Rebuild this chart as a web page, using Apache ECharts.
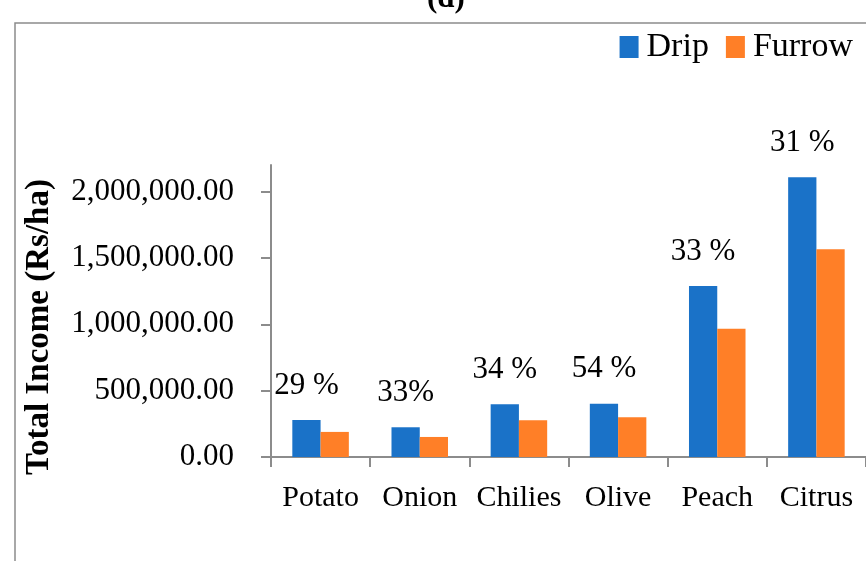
<!DOCTYPE html>
<html>
<head>
<meta charset="utf-8">
<script src="https://cdn.jsdelivr.net/npm/echarts@6/dist/echarts.min.js"></script>
<style>
  html, body { margin: 0; padding: 0; background: #fff; }
  #chart { width: 866px; height: 561px; }
</style>
</head>
<body>
<div id="chart"></div>
<script>
const crops = ['Potato', 'Onion', 'Chilies', 'Olive', 'Peach', 'Citrus'];
const drip = [279000, 224000, 398000, 402000, 1288000, 2108000];
const furrow = [189000, 151000, 277000, 300000, 966000, 1565000];
const pctLabels = ['29 %', '33%', '34 %', '54 %', '33 %', '31 %'];
const yTicks = [0, 500000, 1000000, 1500000, 2000000];

const font = '"Liberation Serif", "Times New Roman", serif';
const axisGray = '#8c8c8c';

function fmt(v) {
  return v.toLocaleString('en-US', { minimumFractionDigits: 2, maximumFractionDigits: 2 });
}

const chart = echarts.init(document.getElementById('chart'));
chart.setOption({
  animation: false,
  textStyle: { fontFamily: font, color: '#000' },
  title: {
    text: '(d)',
    left: 422,
    top: -22,
    textStyle: { fontFamily: font, fontSize: 31, fontWeight: 'bold', color: '#000' }
  },
  graphic: [{
    type: 'rect',
    shape: { x: 15, y: 23, width: 900, height: 600 },
    style: { fill: 'none', stroke: axisGray, lineWidth: 1.5 },
    silent: true
  }],
  legend: {
    right: 8,
    top: 25,
    itemWidth: 19,
    itemHeight: 22,
    itemGap: 17,
    icon: 'rect',
    textStyle: { fontFamily: font, fontSize: 34, color: '#000', padding: [0, 0, 0, 3] },
    data: ['Drip', 'Furrow']
  },
  grid: { left: 271, right: 0, top: 165, bottom: 104 },
  xAxis: {
    type: 'category',
    data: crops,
    axisLine: { lineStyle: { color: axisGray, width: 2 } },
    axisTick: { show: true, length: 10, interval: 0, alignWithLabel: false, lineStyle: { color: axisGray, width: 2 } },
    axisLabel: { fontFamily: font, fontSize: 30, color: '#000', margin: 26, interval: 0 }
  },
  yAxis: {
    type: 'value',
    min: 0,
    max: 2200000,
    name: 'Total Income (Rs/ha)',
    nameLocation: 'middle',
    nameGap: 215,
    nameTextStyle: { fontFamily: font, fontSize: 33, fontWeight: 'bold', color: '#000', padding: [0, 0, 0, -32] },
    axisLine: { show: true, lineStyle: { color: axisGray, width: 2 } },
    axisTick: { show: true, length: 10, customValues: yTicks, lineStyle: { color: axisGray, width: 2 } },
    axisLabel: { fontFamily: font, fontSize: 31, color: '#000', margin: 37, customValues: yTicks, formatter: fmt },
    splitLine: { show: false }
  },
  series: [
    {
      name: 'Drip',
      type: 'bar',
      data: drip,
      barGap: '0%',
      barCategoryGap: '43%',
      itemStyle: { color: '#1A72C8' },
      label: {
        show: true,
        position: 'top',
        distance: 19,
        fontFamily: font,
        fontSize: 31,
        color: '#000',
        formatter: p => pctLabels[p.dataIndex]
      }
    },
    {
      name: 'Furrow',
      type: 'bar',
      data: furrow,
      barGap: '0%',
      barCategoryGap: '43%',
      itemStyle: { color: '#FF7F27' }
    }
  ]
});
</script>
</body>
</html>
